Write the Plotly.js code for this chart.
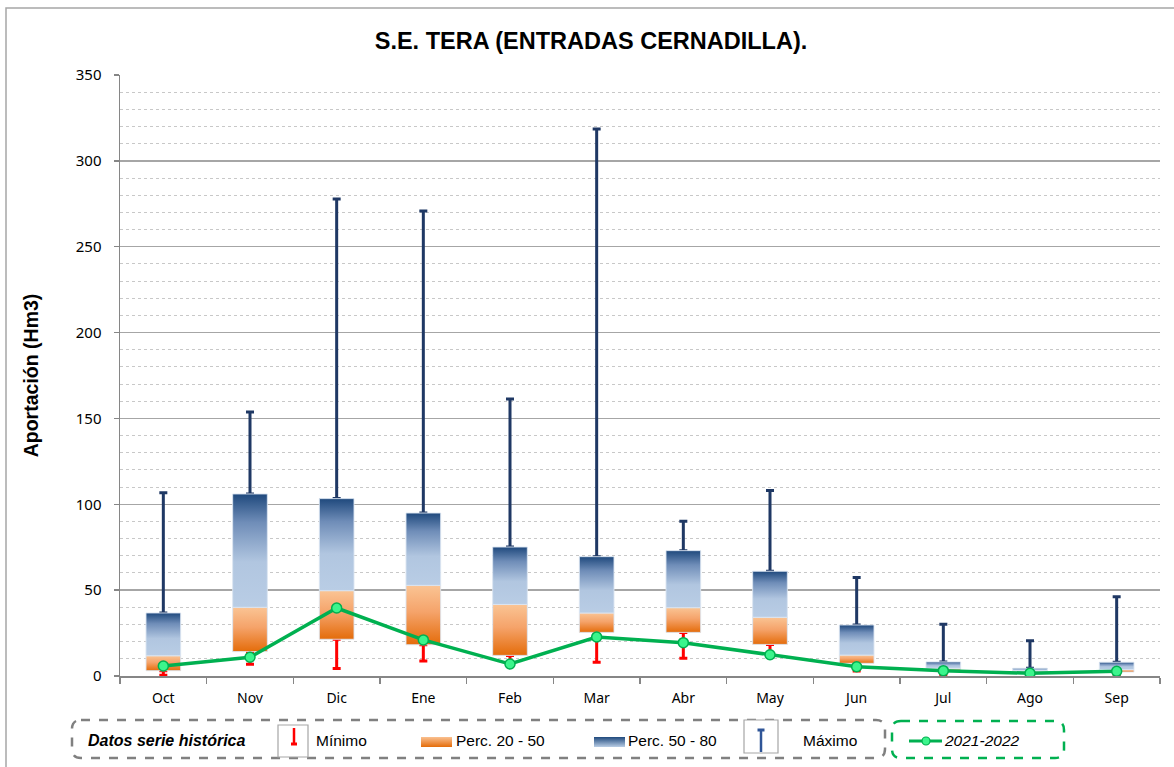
<!DOCTYPE html>
<html>
<head>
<meta charset="utf-8">
<script src="https://cdn.plot.ly/plotly-3.0.1.min.js"></script>
<style>html,body{margin:0;padding:0;background:#fff;}#chart{width:1174px;height:767px;}</style>
</head>
<body>
<div id="chart"></div>
<script>
// ---- Data (Hm3) ----
const months   = ['Oct','Nov','Dic','Ene','Feb','Mar','Abr','May','Jun','Jul','Ago','Sep'];
const minimo   = [0.5, 6.8, 4.3, 8.7, 6.0, 8.0, 10.3, 11.5, 2.9, 0.3, 1.2, 0.2];
const perc20   = [3.1, 14.2, 21.4, 18.2, 12.0, 25.4, 25.4, 18.4, 7.4, 3.5, 2.5, 2.3];
const perc50   = [11.8, 40.0, 49.7, 52.8, 41.7, 36.7, 39.8, 34.2, 12.2, 4.5, 3.1, 3.7];
const perc80   = [36.7, 106.0, 103.3, 94.9, 75.1, 69.5, 73.0, 61.0, 29.7, 8.2, 4.5, 8.0];
const maximo   = [106.7, 153.7, 277.8, 270.8, 161.3, 318.6, 90.1, 108.1, 57.3, 30.1, 20.6, 46.2];
const serie2122 = [5.8, 10.9, 39.6, 21.0, 7.0, 22.7, 19.4, 12.4, 5.4, 3.1, 1.6, 2.7];
const yTitle = 'Aportación (Hm3)';
const chartTitle = 'S.E. TERA (ENTRADAS CERNADILLA).';
const legendLabels = ['Datos serie histórica', 'Mínimo', 'Perc. 20 - 50', 'Perc. 50 - 80', 'Máximo', '2021-2022'];

// ---- Styles ----
const idx = months.map((m, i) => i);
const HALF = 0.2;
const GREEN = '#00B050';
const traces = [];

// Max whiskers (from P80 up to maximum)
traces.push({
  type: 'scatter', mode: 'markers', x: idx, y: perc80,
  marker: {size: 1, color: 'rgba(0,0,0,0)'},
  error_y: {type: 'data', symmetric: false,
    array: maximo.map((v, i) => v - perc80[i]), arrayminus: idx.map(() => 0),
    color: '#1F3864', thickness: 3, width: 4},
  hoverinfo: 'skip', showlegend: false
});
// Min whiskers (from P20 down to minimum)
traces.push({
  type: 'scatter', mode: 'markers', x: idx, y: perc20,
  marker: {size: 1, color: 'rgba(0,0,0,0)'},
  error_y: {type: 'data', symmetric: false,
    array: idx.map(() => 0), arrayminus: perc20.map((v, i) => v - minimo[i]),
    color: '#FF0000', thickness: 3, width: 4},
  hoverinfo: 'skip', showlegend: false
});

function boxTrace(i, lo, hi, scale) {
  return {
    type: 'scatter', mode: 'lines',
    x: [i - HALF, i + HALF, i + HALF, i - HALF, i - HALF],
    y: [lo, lo, hi, hi, lo],
    fill: 'toself',
    fillgradient: {type: 'vertical', colorscale: scale},
    line: {color: 'rgba(220,230,242,0.9)', width: 1},
    hoverinfo: 'skip', showlegend: false
  };
}
const orangeScale = [[0, '#E46C0A'], [0.55, '#F5A36A'], [1, '#FAC494']];
const blueScale = [[0, '#B9CDE5'], [0.4, '#B1C6E0'], [0.75, '#6F8DB8'], [1, '#1F497D']];
idx.forEach(i => {
  traces.push(boxTrace(i, perc20[i], perc50[i], orangeScale));
  traces.push(boxTrace(i, perc50[i], perc80[i], blueScale));
});

// Current series
traces.push({
  type: 'scatter', mode: 'lines+markers', x: idx, y: serie2122,
  line: {color: GREEN, width: 3.5},
  marker: {size: 10, color: '#3CF58C', line: {color: GREEN, width: 1.5}},
  name: legendLabels[5], showlegend: false
});

// ---- Pixel helpers for the hand-made legend ----
const PL = 120, PR = 1160, PT = 75, PB = 676;
const X = px => (px - PL) / (PR - PL);
const Y = py => (PB - py) / (PB - PT);
function rr(x0, y0, x1, y1, r) {
  const p = (x, y) => X(x) + ',' + Y(y);
  return 'M' + p(x0 + r, y0) + ' L' + p(x1 - r, y0) + ' Q' + p(x1, y0) + ' ' + p(x1, y0 + r) +
    ' L' + p(x1, y1 - r) + ' Q' + p(x1, y1) + ' ' + p(x1 - r, y1) +
    ' L' + p(x0 + r, y1) + ' Q' + p(x0, y1) + ' ' + p(x0, y1 - r) +
    ' L' + p(x0, y0 + r) + ' Q' + p(x0, y0) + ' ' + p(x0 + r, y0) + ' Z';
}
function gradSvg(top, bottom) {
  const s = '<svg xmlns="http://www.w3.org/2000/svg" width="32" height="10" preserveAspectRatio="none">' +
    '<defs><linearGradient id="g" x1="0" y1="0" x2="0" y2="1"><stop offset="0" stop-color="' + top +
    '"/><stop offset="1" stop-color="' + bottom + '"/></linearGradient></defs>' +
    '<rect x="0" y="0" width="32" height="10" fill="url(#g)"/></svg>';
  return 'data:image/svg+xml;charset=utf-8,' + encodeURIComponent(s);
}
const lineShape = (x0, y0, x1, y1, color, w) => ({type: 'line', xref: 'paper', yref: 'paper',
  x0: X(x0), y0: Y(y0), x1: X(x1), y1: Y(y1), line: {color: color, width: w}});

const shapes = [
  // outer chart border
  {type: 'rect', xref: 'paper', yref: 'paper', x0: X(6), x1: X(1200), y0: Y(8), y1: Y(800),
   line: {color: '#A6A6A6', width: 1.5}, fillcolor: 'rgba(0,0,0,0)', layer: 'below'},
  // legend frames
  {type: 'path', xref: 'paper', yref: 'paper', path: rr(72, 720, 885, 758, 9),
   line: {color: '#808080', width: 2.5, dash: 'dash'}},
  {type: 'path', xref: 'paper', yref: 'paper', path: rr(892, 721, 1064, 758, 9),
   line: {color: GREEN, width: 2.5, dash: 'dash'}},
  // Minimo icon
  {type: 'rect', xref: 'paper', yref: 'paper', x0: X(278), x1: X(308), y0: Y(725), y1: Y(757),
   line: {color: '#A6A6A6', width: 1.2}, fillcolor: '#FFFFFF'},
  lineShape(294, 728, 294, 744, '#FF0000', 2.5),
  lineShape(291, 744, 297, 744, '#FF0000', 3),
  // Maximo icon
  {type: 'rect', xref: 'paper', yref: 'paper', x0: X(744), x1: X(778), y0: Y(720), y1: Y(753),
   line: {color: '#A6A6A6', width: 1.2}, fillcolor: '#FFFFFF'},
  lineShape(761, 730, 761, 752, '#2F5597', 2.5),
  lineShape(757.5, 730, 764.5, 730, '#2F5597', 3),
  // 2021-2022 icon
  lineShape(909, 741, 942, 741, GREEN, 3),
  {type: 'circle', xref: 'paper', yref: 'paper', x0: X(922), x1: X(930), y0: Y(745), y1: Y(737),
   line: {color: GREEN, width: 1.2}, fillcolor: '#3CF58C'}
];

const images = [
  {source: gradSvg('#FAC090', '#E46C0A'), xref: 'paper', yref: 'paper', x: X(421), y: Y(737),
   sizex: X(452) - X(421), sizey: Y(737) - Y(747), xanchor: 'left', yanchor: 'top', sizing: 'stretch', layer: 'above'},
  {source: gradSvg('#1F497D', '#B9CDE5'), xref: 'paper', yref: 'paper', x: X(594), y: Y(737),
   sizex: X(625) - X(594), sizey: Y(737) - Y(747), xanchor: 'left', yanchor: 'top', sizing: 'stretch', layer: 'above'}
];

const legFont = {family: 'Liberation Sans, Arial, sans-serif', size: 15.5, color: '#000'};
const ann = (px, text, font) => ({xref: 'paper', yref: 'paper', x: X(px), y: Y(741), xanchor: 'left', yanchor: 'middle',
  text: text, showarrow: false, font: font || legFont});
const annotations = [
  ann(86, '<b><i>' + legendLabels[0] + '</i></b>', {family: 'Liberation Sans, Arial, sans-serif', size: 16, color: '#000'}),
  ann(314, legendLabels[1]),
  ann(454, legendLabels[2]),
  ann(626, legendLabels[3]),
  ann(801, legendLabels[4]),
  ann(942, '<i>' + legendLabels[5] + '</i>')
];

const tickFont = {family: 'Noto Sans, Open Sans, sans-serif', size: 14, color: '#000'};
const layout = {
  width: 1174, height: 767,
  margin: {l: PL, r: 1174 - PR, t: PT, b: 767 - PB},
  paper_bgcolor: '#FFFFFF', plot_bgcolor: '#FFFFFF',
  showlegend: false,
  title: {text: '<b>' + chartTitle + '</b>', xref: 'container', yref: 'container',
    x: 591 / 1174, xanchor: 'center', y: 1 - 41 / 767, yanchor: 'middle',
    font: {family: 'Liberation Sans, Arial, sans-serif', size: 23.5, color: '#000'}},
  xaxis: {
    range: [-0.5, 11.5], tickmode: 'array', tickvals: idx, ticktext: months,
    ticks: 'outside', ticklen: 9, tickcolor: 'rgba(0,0,0,0)',
    showgrid: false, zeroline: false, showline: true, linecolor: '#868686', linewidth: 1.5,
    tickfont: tickFont, fixedrange: true,
    minor: {tickmode: 'array', tickvals: idx.map(i => i - 0.5).concat([11.5]), ticks: 'outside',
      ticklen: 6, tickcolor: '#868686', tickwidth: 1.5, showgrid: false}
  },
  yaxis: {
    range: [0, 350], tickmode: 'linear', tick0: 0, dtick: 50,
    ticks: 'outside', ticklen: 5, tickcolor: '#868686', tickwidth: 1.5, ticklabelstandoff: 9,
    showline: true, linecolor: '#868686', linewidth: 1.5,
    showgrid: true, gridcolor: '#A6A6A6', gridwidth: 1.5, zeroline: false,
    tickfont: {family: 'Noto Sans, Open Sans, sans-serif', size: 15, color: '#000'}, fixedrange: true,
    minor: {dtick: 10, showgrid: true, gridcolor: '#C8C8C8', griddash: 'dot', gridwidth: 1, ticks: ''},
    title: {text: '<b>' + yTitle + '</b>', standoff: 32,
      font: {family: 'Liberation Sans, Arial, sans-serif', size: 19.5, color: '#000'}}
  },
  shapes: shapes, images: images, annotations: annotations
};

Plotly.newPlot('chart', traces, layout, {staticPlot: true, displayModeBar: false});
</script>
</body>
</html>
